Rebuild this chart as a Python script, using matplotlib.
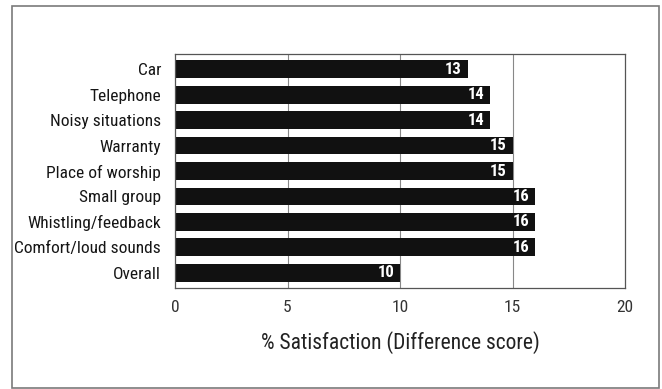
import matplotlib
matplotlib.use('Agg')
import matplotlib.pyplot as plt
from matplotlib import font_manager
from matplotlib.patches import Rectangle

categories = ['Car', 'Telephone', 'Noisy situations', 'Warranty', 'Place of worship',
              'Small group', 'Whistling/feedback', 'Comfort/loud sounds', 'Overall']
scores = [13, 14, 14, 15, 15, 16, 16, 16, 10]
xticks = [0, 5, 10, 15, 20]

# pick a narrow face if one is there
names = set(f.name for f in font_manager.fontManager.ttflist)
narrow = 'DejaVu Sans'
for cand in ['Roboto Condensed', 'Liberation Sans Narrow', 'Open Sans Condensed']:
    if cand in names:
        narrow = cand
        break
plt.rcParams['font.family'] = [narrow, 'DejaVu Sans']

fig = plt.figure(figsize=(6.62, 3.89), dpi=100)
ax = fig.add_axes([175/662, 1 - 288/389, 450/662, 234/389])

# outer frame
fig.patches.append(Rectangle((12/662, 1.5/389), 647/662, 381.5/389, transform=fig.transFigure,
                             fill=False, edgecolor='#7a7a7a', linewidth=1.2))

ypos = list(range(len(categories)))
ax.barh(ypos, scores, height=0.7, color='#111111', zorder=2)
for y, v in zip(ypos, scores):
    ax.text(v - 0.25, y, str(v), color='white', ha='right', va='center',
            fontsize=12, fontweight='bold', zorder=3)

for x in xticks[1:-1]:
    ax.axvline(x, color='#888888', linewidth=0.8, zorder=1)

ax.set_xlim(0, 20)
ax.set_ylim(len(categories) - 0.4, -0.6)
ax.set_yticks(ypos)
ax.set_yticklabels(categories, fontsize=12.5, color='#151515')
ax.set_xticks(xticks)
ax.set_xticklabels([str(t) for t in xticks], fontsize=12.5, color='#333333')
ax.tick_params(length=0, pad=9)
ax.tick_params(axis='y', pad=10)
ax.set_xlabel('% Satisfaction (Difference score)', fontsize=15.5, color='#222222', labelpad=11)
for s in ax.spines.values():
    s.set_color('#555555')
    s.set_linewidth(0.9)

plt.savefig('out.png', dpi=100)
